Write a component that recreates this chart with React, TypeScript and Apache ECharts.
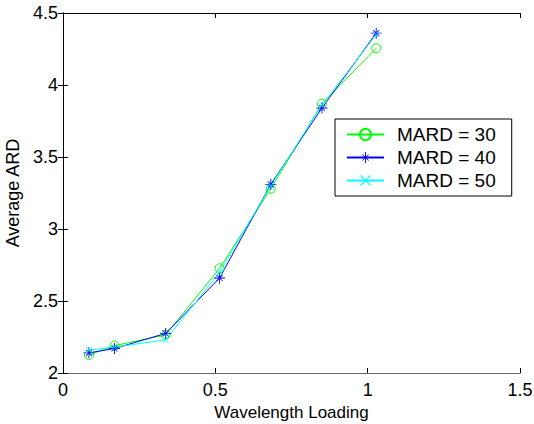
import React, { useEffect, useRef } from "react";
import * as echarts from "echarts";

const loading = [0.085, 0.169, 0.337, 0.514, 0.682, 0.85, 1.028];
const mard30 = [2.125, 2.19, 2.265, 2.727, 3.28, 3.87, 4.255];
const mard40 = [2.14, 2.17, 2.275, 2.66, 3.31, 3.84, 4.36];
const mard50 = [2.16, 2.18, 2.23, 2.7, 3.3, 3.86, 4.35];
const seriesNames = ["MARD = 30", "MARD = 40", "MARD = 50"];
const xTicks = { min: 0, max: 1.5, interval: 0.5 };
const yTicks = { min: 2, max: 4.5, interval: 0.5 };

const starPath =
  "path://M-0.8,-10 L0.8,-10 L0.8,10 L-0.8,10 Z M-10,-0.8 L10,-0.8 L10,0.8 L-10,0.8 Z M-6,-5 L-5,-6 L6,5 L5,6 Z M6,-5 L5,-6 L-6,5 L-5,6 Z";
const xPath =
  "path://M-10,-8.5 L-8.5,-10 L10,8.5 L8.5,10 Z M10,-8.5 L8.5,-10 L-10,8.5 L-8.5,10 Z";

export default function App() {
  const ref = useRef<HTMLDivElement>(null);
  useEffect(() => {
    if (!ref.current) return;
    const chart = echarts.init(ref.current, null, { renderer: "svg" });
    const font = "'Liberation Sans', Arial, sans-serif";
    const mk = (vals: number[]) => loading.map((x, i) => [x, vals[i]]);
    const hiddenAxis = {
      axisLabel: { show: false },
      axisTick: { show: true, inside: true, length: 5, lineStyle: { color: "#000" } },
      axisLine: { show: true, lineStyle: { color: "#000", width: 1 } },
      splitLine: { show: false },
    };
    chart.setOption({
      animation: false,
      backgroundColor: "#fff",
      grid: { left: 63, right: 14, top: 13, bottom: 51, outerBoundsMode: "none", containLabel: false },
      legend: {
        orient: "vertical",
        left: 335,
        top: 119,
        data: seriesNames,
        borderColor: "#000",
        borderWidth: 1,
        padding: [6, 16, 6, 11],
        itemWidth: 37,
        itemHeight: 14,
        itemGap: 4,
        textStyle: { fontFamily: font, fontSize: 19, color: "#000", padding: [0, 0, 0, 8] },
      },
      xAxis: [
        {
          type: "value",
          ...xTicks,
          position: "bottom",
          name: "Wavelength Loading",
          nameLocation: "middle",
          nameGap: 31,
          nameTextStyle: { fontFamily: font, fontSize: 17, color: "#000" },
          axisLabel: { fontFamily: font, fontSize: 18, color: "#000", margin: 8 },
          axisTick: { inside: true, length: 5, lineStyle: { color: "#000" } },
          axisLine: { lineStyle: { color: "#666", width: 1 } },
          splitLine: { show: false },
        },
        { type: "value", ...xTicks, position: "top", ...hiddenAxis },
      ],
      yAxis: [
        {
          type: "value",
          ...yTicks,
          position: "left",
          name: "Average ARD",
          nameLocation: "middle",
          nameGap: 38,
          nameTextStyle: { fontFamily: font, fontSize: 18, color: "#000" },
          axisLabel: { fontFamily: font, fontSize: 18, color: "#000", margin: 5 },
          axisTick: { inside: true, length: 5, lineStyle: { color: "#000" } },
          axisLine: { show: true, lineStyle: { color: "#000", width: 1 } },
          splitLine: { show: false },
        },
        { type: "value", ...yTicks, position: "right", ...hiddenAxis },
      ],
      series: [
        {
          name: seriesNames[0],
          type: "line",
          data: mk(mard30),
          symbol: "circle",
          symbolSize: 9,
          showAllSymbol: true,
          lineStyle: { color: "#00ff00", width: 1 },
          itemStyle: { color: "rgba(0,0,0,0)", borderColor: "#00ff00", borderWidth: 1 },
        },
        {
          name: seriesNames[1],
          type: "line",
          data: mk(mard40),
          symbol: starPath,
          symbolSize: 11,
          lineStyle: { color: "#0000ff", width: 1 },
          itemStyle: { color: "#0000ff" },
        },
        {
          name: seriesNames[2],
          type: "line",
          data: mk(mard50),
          symbol: xPath,
          symbolSize: 6,
          lineStyle: { color: "#00ffff", width: 1 },
          itemStyle: { color: "#00ffff" },
        },
      ],
    });
    return () => chart.dispose();
  }, []);
  return (
    <div
      ref={ref}
      style={{ position: "absolute", left: 0, top: 0, width: 534, height: 424 }}
    />
  );
}
